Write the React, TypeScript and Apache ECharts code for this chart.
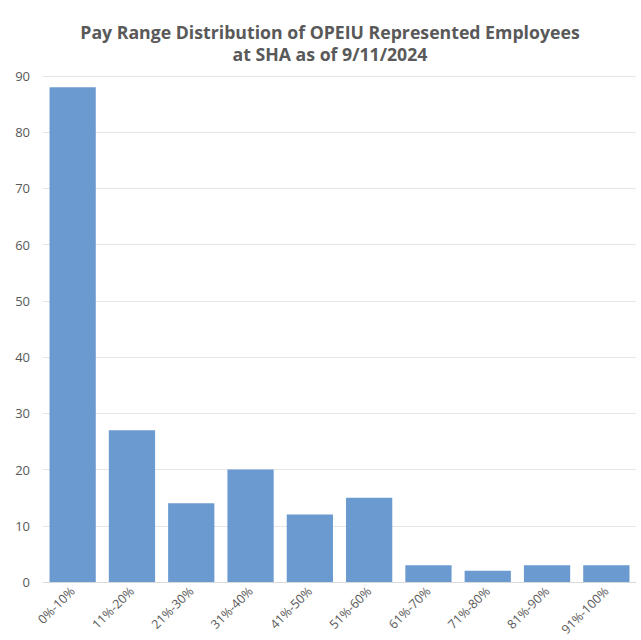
import React, { useEffect, useRef } from "react";
import * as echarts from "echarts";

const categories = ["0%-10%", "11%-20%", "21%-30%", "31%-40%", "41%-50%", "51%-60%", "61%-70%", "71%-80%", "81%-90%", "91%-100%"];
const employees = [88, 27, 14, 20, 12, 15, 3, 2, 3, 3];
const titleText = "Pay Range Distribution of OPEIU Represented Employees\nat SHA as of 9/11/2024";

export default function App() {
  const ref = useRef<HTMLDivElement>(null);
  useEffect(() => {
    if (!ref.current) return;
    const chart = echarts.init(ref.current, undefined, { renderer: "svg" });
    chart.setOption({
      animation: false,
      backgroundColor: "#ffffff",
      title: {
        text: titleText,
        left: 330,
        textAlign: "center",
        top: 21,
        padding: 0,
        textStyle: {
          fontFamily: "Open Sans",
          fontWeight: "bold",
          fontSize: 17.7,
          lineHeight: 22,
          color: "#595959",
        },
      },
      grid: { left: 43, right: 5, top: 76, bottom: 58, outerBoundsMode: "none", containLabel: false },
      xAxis: {
        type: "category",
        data: categories,
        axisTick: { show: false },
        axisLine: { lineStyle: { color: "#d9d9d9" } },
        axisLabel: {
          rotate: 45,
          color: "#595959",
          fontSize: 12.5,
          fontFamily: "Open Sans",
          margin: 7,
          interval: 0,
        },
      },
      yAxis: {
        type: "value",
        min: 0,
        max: 90,
        interval: 10,
        axisLine: { show: false },
        axisTick: { show: false },
        splitLine: { lineStyle: { color: "#e6e6e6" } },
        axisLabel: { color: "#595959", fontSize: 13, fontFamily: "Open Sans", margin: 13 },
      },
      series: [
        {
          type: "bar",
          data: employees,
          barCategoryGap: "22%",
          itemStyle: { color: "#6A9AD0" },
        },
      ],
    });
    return () => chart.dispose();
  }, []);
  return <div ref={ref} style={{ position: "fixed", left: 0, top: 0, width: 641, height: 640 }} />;
}
